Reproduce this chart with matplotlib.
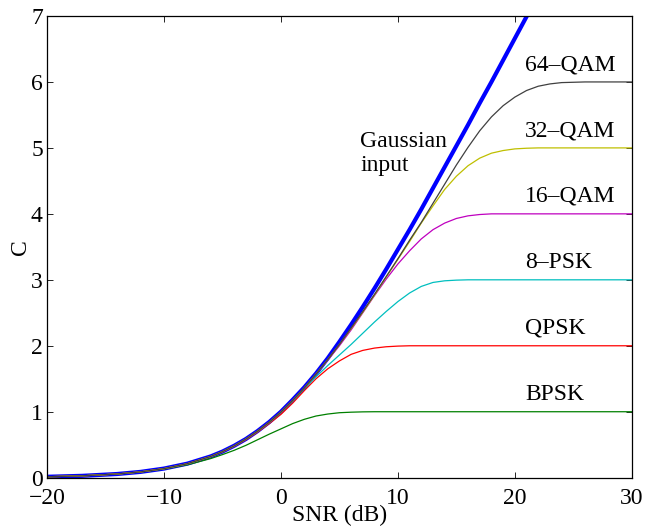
import numpy as np
import matplotlib
matplotlib.use("Agg")
import matplotlib.pyplot as plt

# SNR grid (dB) and capacities (bits/symbol)
snr_db = [-20, -17, -14, -12, -10, -8, -6, -5, -4, -3, -2, -1, 0,
          1, 2, 3, 4, 5, 6, 7, 8, 9, 10, 11, 12, 13, 14, 15, 16, 17,
          18, 19, 20, 21, 22, 23, 24, 26, 28, 30]

c_gauss = [0.014, 0.028, 0.056, 0.088, 0.138, 0.213, 0.323, 0.396, 0.484, 0.586, 0.707, 0.844, 1.0,
           1.18, 1.37, 1.58, 1.81, 2.06, 2.32, 2.59, 2.87, 3.16, 3.46, 3.76, 4.07, 4.39, 4.71, 5.03, 5.35, 5.68,
           6.00, 6.33, 6.66, 6.99, 7.32, 7.65, 7.98, 8.64, 9.30, 9.97]

c_bpsk = [0.014, 0.028, 0.055, 0.085, 0.13, 0.195, 0.29, 0.35, 0.415, 0.49, 0.575, 0.66, 0.74,
          0.82, 0.885, 0.935, 0.965, 0.985, 0.993, 0.998, 1.0, 1.0, 1.0, 1.0, 1.0, 1.0, 1.0, 1.0, 1.0, 1.0,
          1.0, 1.0, 1.0, 1.0, 1.0, 1.0, 1.0, 1.0, 1.0, 1.0]

c_qpsk = [0.014, 0.028, 0.056, 0.088, 0.137, 0.21, 0.318, 0.39, 0.475, 0.575, 0.69, 0.82, 0.96,
          1.13, 1.32, 1.50, 1.65, 1.77, 1.87, 1.93, 1.965, 1.985, 1.995, 2.0, 2.0, 2.0, 2.0, 2.0, 2.0, 2.0,
          2.0, 2.0, 2.0, 2.0, 2.0, 2.0, 2.0, 2.0, 2.0, 2.0]

c_8psk = [0.014, 0.028, 0.056, 0.088, 0.137, 0.21, 0.32, 0.395, 0.48, 0.585, 0.70, 0.835, 0.99,
          1.16, 1.35, 1.53, 1.70, 1.86, 2.02, 2.19, 2.36, 2.52, 2.67, 2.80, 2.90, 2.96, 2.985, 2.995, 3.0, 3.0,
          3.0, 3.0, 3.0, 3.0, 3.0, 3.0, 3.0, 3.0, 3.0, 3.0]

c_16qam = [0.014, 0.028, 0.056, 0.088, 0.137, 0.212, 0.322, 0.395, 0.482, 0.585, 0.705, 0.84, 0.995,
           1.17, 1.36, 1.57, 1.78, 2.0, 2.24, 2.50, 2.76, 3.01, 3.24, 3.44, 3.62, 3.76, 3.86, 3.93, 3.97, 3.99,
           4.0, 4.0, 4.0, 4.0, 4.0, 4.0, 4.0, 4.0, 4.0, 4.0]

c_32qam = [0.014, 0.028, 0.056, 0.088, 0.137, 0.212, 0.322, 0.395, 0.482, 0.585, 0.705, 0.84, 0.995,
           1.17, 1.36, 1.57, 1.79, 2.02, 2.26, 2.51, 2.77, 3.04, 3.31, 3.58, 3.86, 4.12, 4.37, 4.57, 4.73, 4.845,
           4.92, 4.96, 4.985, 4.995, 5.0, 5.0, 5.0, 5.0, 5.0, 5.0]

c_64qam = [0.014, 0.028, 0.056, 0.088, 0.137, 0.212, 0.322, 0.395, 0.482, 0.585, 0.705, 0.84, 0.995,
           1.17, 1.36, 1.57, 1.79, 2.02, 2.27, 2.52, 2.78, 3.05, 3.32, 3.60, 3.87, 4.16, 4.45, 4.74, 5.01, 5.26,
           5.47, 5.64, 5.77, 5.87, 5.935, 5.97, 5.99, 6.0, 6.0, 6.0]

labels = ["BPSK", "QPSK", "8\u2013PSK", "16\u2013QAM", "32\u2013QAM", "64\u2013QAM"]
levels = [1, 2, 3, 4, 5, 6]

plt.rcParams['font.family'] = ['Liberation Serif', 'DejaVu Serif']
plt.rcParams['font.size'] = 17

fig = plt.figure(figsize=(6.46, 5.31), dpi=100)
ax = fig.add_axes([0.0728, 0.1004, 0.9052, 0.8695])

ax.plot(snr_db, c_gauss, color=(0, 0, 1), lw=3.0)
ax.plot(snr_db, c_bpsk, color=(0, 0.5, 0), lw=0.9)
ax.plot(snr_db, c_qpsk, color=(1, 0, 0), lw=0.9)
ax.plot(snr_db, c_8psk, color=(0, 0.75, 0.75), lw=0.9)
ax.plot(snr_db, c_16qam, color=(0.75, 0, 0.75), lw=0.9)
ax.plot(snr_db, c_32qam, color=(0.75, 0.75, 0), lw=0.9)
ax.plot(snr_db, c_64qam, color=(0.25, 0.25, 0.25), lw=0.9)

for lab, lev in zip(labels, levels):
    ax.text(20.9, lev + 0.18, lab, ha='left', va='baseline', fontsize=17)
ax.text(6.8, 5.02, "Gaussian", ha='left', va='baseline', fontsize=17)
ax.text(6.8, 4.65, "input", ha='left', va='baseline', fontsize=17)

ax.set_xlim(-20, 30)
ax.set_ylim(0, 7)
ax.set_xticks([-20, -10, 0, 10, 20, 30])
ax.set_yticks([0, 1, 2, 3, 4, 5, 6, 7])
ax.tick_params(direction='in', length=4, width=0.6, top=True, right=True)
ax.tick_params(axis='x', pad=7.5)
ax.tick_params(axis='y', pad=3)
for sp in ax.spines.values():
    sp.set_linewidth(0.9)

ax.set_xlabel("SNR (dB)", labelpad=-3)
ax.set_ylabel("C", labelpad=0)

fig.savefig("out.png", dpi=100)
